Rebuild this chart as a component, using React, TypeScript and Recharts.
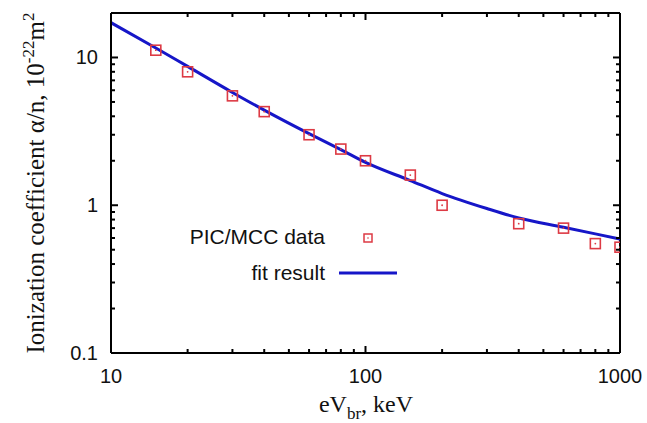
import React from 'react';
import { ComposedChart, Line, Scatter, XAxis, YAxis, ReferenceLine, Legend } from 'recharts';

// PIC/MCC simulation points (eV_br in keV, alpha/n in 1e-22 m^2)
const picX = [15, 20, 30, 40, 60, 80, 100, 150, 200, 400, 600, 800, 1000];
const picY = [11.2, 8.0, 5.5, 4.3, 3.0, 2.4, 2.0, 1.6, 1.0, 0.75, 0.7, 0.55, 0.52];

// fit curve
const fitX = [10, 15, 20, 30, 40, 60, 80, 100, 150, 200, 300, 400, 600, 800, 1000];
const fitY = [17.2, 11.6, 8.7, 5.8, 4.4, 3.05, 2.38, 1.95, 1.47, 1.2, 0.95, 0.82, 0.71, 0.64, 0.59];

const xMajor = [10, 100, 1000];
const xMinor = [20, 30, 40, 50, 60, 70, 80, 90, 200, 300, 400, 500, 600, 700, 800, 900];
const yMajor = [0.1, 1, 10];
const yMinor = [0.2, 0.3, 0.4, 0.5, 0.6, 0.7, 0.8, 0.9, 2, 3, 4, 5, 6, 7, 8, 9];

const picData = picX.map((x, i) => ({ x, y: picY[i] }));
const fitData = fitX.map((x, i) => ({ x, y: fitY[i] }));

const W = 647;
const H = 423;
const margin = { top: 13, right: 27, bottom: 10, left: 11 };
const X_AXIS_H = 60;
const Y_AXIS_W = 100;
const PW = W - margin.left - Y_AXIS_W - margin.right;
const PH = H - margin.top - margin.bottom - X_AXIS_H;

const RED = '#dd3a44';
const BLUE = '#1616c8';
const SANS = '"Liberation Sans", Arial, sans-serif';
const SERIF = '"Liberation Serif", "Times New Roman", serif';

const XTick = (props: any) => {
  const { x, y, payload } = props;
  const major = xMajor.includes(payload.value);
  const len = major ? 7 : 4;
  return (
    <g>
      <line x1={x} x2={x} y1={y} y2={y - len} stroke="#000" strokeWidth={2} />
      <line x1={x} x2={x} y1={y - PH} y2={y - PH + len} stroke="#000" strokeWidth={2} />
      {major && (
        <text x={x} y={y + 30} textAnchor="middle" fontSize={20} fontFamily={SANS} fill="#111">
          {payload.value}
        </text>
      )}
    </g>
  );
};

const YTick = (props: any) => {
  const { x, y, payload } = props;
  const major = yMajor.includes(payload.value);
  const len = major ? 7 : 4;
  return (
    <g>
      <line x1={x} x2={x + len} y1={y} y2={y} stroke="#000" strokeWidth={2} />
      <line x1={x + PW} x2={x + PW - len} y1={y} y2={y} stroke="#000" strokeWidth={2} />
      {major && (
        <text x={x - 13} y={y + 7} textAnchor="end" fontSize={20} fontFamily={SANS} fill="#111">
          {payload.value}
        </text>
      )}
    </g>
  );
};

const XLabel = () => (
  <text x={366} y={412} textAnchor="middle" fontSize={24} fontFamily={SERIF} fill="#111">
    eV
    <tspan fontSize={17} dy={7}>br</tspan>
    <tspan dy={-7}>, keV</tspan>
  </text>
);

const YLabel = () => (
  <text
    x={0}
    y={0}
    transform="translate(44,183) rotate(-90)"
    textAnchor="middle"
    fontSize={25}
    fontFamily={SERIF}
    fill="#111"
  >
    Ionization coefficient α/n, 10
    <tspan fontSize={17} dy={-10}>-22</tspan>
    <tspan dy={10}>m</tspan>
    <tspan fontSize={17} dy={-10}>2</tspan>
  </text>
);

const Square = (props: any) => {
  const { cx, cy } = props;
  return (
    <g>
      <rect x={cx - 5} y={cy - 5} width={10} height={10} fill="none" stroke={RED} strokeWidth={1.6} />
      <circle cx={cx} cy={cy} r={0.9} fill={RED} />
    </g>
  );
};

const LegendBox = () => (
  <svg width={420} height={70} style={{ display: 'block' }}>
    <text x={325} y={24} textAnchor="end" fontSize={21} fontFamily={SANS} fill="#111">
      PIC/MCC data
    </text>
    <rect x={364} y={14} width={8} height={8} fill="none" stroke={RED} strokeWidth={1.5} />
    <circle cx={368} cy={18} r={0.8} fill={RED} />
    <text x={325} y={60} textAnchor="end" fontSize={21} fontFamily={SANS} fill="#111">
      fit result
    </text>
    <line x1={339} x2={397} y1={53} y2={53} stroke={BLUE} strokeWidth={3} />
  </svg>
);

export default function App() {
  return (
    <div style={{ position: 'absolute', left: 0, top: 0, width: W, height: H, background: '#fff' }}>
      <ComposedChart width={W} height={H} margin={margin}>
        <XAxis
          xAxisId="b"
          dataKey="x"
          type="number"
          scale="log"
          domain={[10, 1000]}
          allowDataOverflow
          ticks={[...xMajor, ...xMinor]}
          interval={0}
          tickSize={0}
          tickMargin={0}
          tickLine={false}
          tick={<XTick />}
          axisLine={{ stroke: '#000', strokeWidth: 2 }}
          height={X_AXIS_H}
          label={{ content: () => <XLabel /> }}
        />
        <YAxis
          yAxisId="l"
          dataKey="y"
          type="number"
          scale="log"
          domain={[0.1, 20]}
          allowDataOverflow
          ticks={[...yMajor, ...yMinor]}
          interval={0}
          tickSize={0}
          tickMargin={0}
          tickLine={false}
          tick={<YTick />}
          axisLine={{ stroke: '#000', strokeWidth: 2 }}
          width={Y_AXIS_W}
          label={{ content: () => <YLabel /> }}
        />
        <ReferenceLine xAxisId="b" yAxisId="l" x={1000} stroke="#000" strokeWidth={2} />
        <ReferenceLine xAxisId="b" yAxisId="l" y={20} stroke="#000" strokeWidth={2} />
        <Line
          xAxisId="b"
          yAxisId="l"
          data={fitData}
          dataKey="y"
          type="monotone"
          stroke={BLUE}
          strokeWidth={3}
          dot={false}
          isAnimationActive={false}
        />
        <Scatter
          xAxisId="b"
          yAxisId="l"
          data={picData}
          dataKey="y"
          shape={<Square />}
          isAnimationActive={false}
        />
        <Legend
          layout="horizontal"
          verticalAlign="middle"
          align="center"
          content={() => <LegendBox />}
          wrapperStyle={{ left: 0, top: 220, width: 420, height: 70 }}
        />
      </ComposedChart>
    </div>
  );
}
